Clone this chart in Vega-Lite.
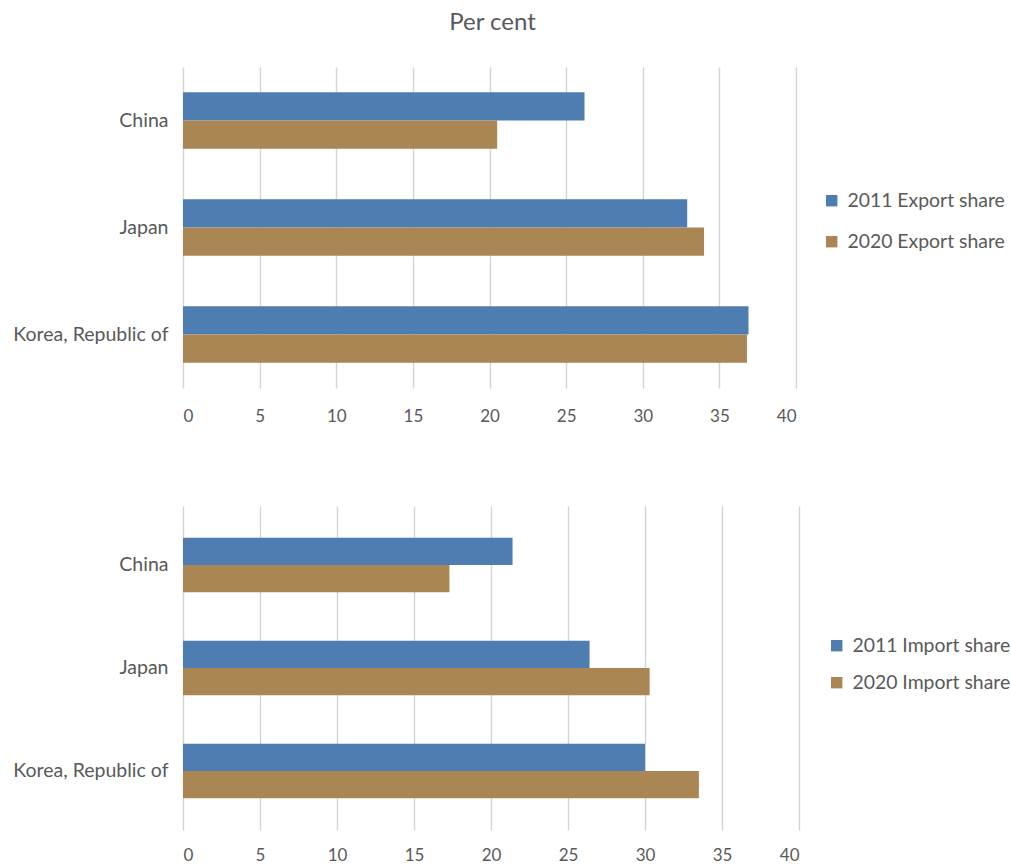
{
  "$schema": "https://vega.github.io/schema/vega-lite/v6.json",
  "background": "white",
  "padding": {"left": 0, "top": 11, "right": 0, "bottom": 0},
  "title": {
    "text": "Per cent",
    "font": "Lato",
    "fontSize": 24,
    "fontWeight": "normal",
    "color": "#595959",
    "anchor": "middle",
    "offset": 32,
    "dx": -13
  },
  "datasets": {
    "exports": [
      {"country": "China", "series": "2011 Export share", "value": 26.2},
      {"country": "China", "series": "2020 Export share", "value": 20.5},
      {"country": "Japan", "series": "2011 Export share", "value": 32.9},
      {"country": "Japan", "series": "2020 Export share", "value": 34.0},
      {"country": "Korea, Republic of", "series": "2011 Export share", "value": 36.9},
      {"country": "Korea, Republic of", "series": "2020 Export share", "value": 36.8}
    ],
    "imports": [
      {"country": "China", "series": "2011 Import share", "value": 21.4},
      {"country": "China", "series": "2020 Import share", "value": 17.3},
      {"country": "Japan", "series": "2011 Import share", "value": 26.4},
      {"country": "Japan", "series": "2020 Import share", "value": 30.3},
      {"country": "Korea, Republic of", "series": "2011 Import share", "value": 30.0},
      {"country": "Korea, Republic of", "series": "2020 Import share", "value": 33.5}
    ]
  },
  "spacing": 82,
  "resolve": {
    "scale": {"color": "independent", "y": "independent", "x": "independent", "yOffset": "independent"},
    "legend": {"color": "independent"}
  },
  "vconcat": [
    {
      "width": 613,
      "height": 321,
      "data": {"name": "exports"},
      "mark": {"type": "bar"},
      "encoding": {
        "y": {
          "field": "country",
          "type": "nominal",
          "sort": ["China", "Japan", "Korea, Republic of"],
          "scale": {"paddingInner": 0.471, "paddingOuter": 0.2355},
          "axis": {"title": null, "domain": false, "ticks": false, "labelPadding": 15, "minExtent": 183, "labelFontSize": 19.5}
        },
        "yOffset": {
          "field": "series",
          "type": "nominal",
          "sort": ["2011 Export share", "2020 Export share"],
          "scale": {"paddingInner": 0, "paddingOuter": 0}
        },
        "x": {
          "field": "value",
          "type": "quantitative",
          "scale": {"domain": [0, 40], "nice": false},
          "axis": {"title": null, "values": [0, 5, 10, 15, 20, 25, 30, 35, 40], "domain": false, "ticks": false, "labelPadding": 20}
        },
        "color": {
          "field": "series",
          "type": "nominal",
          "scale": {"domain": ["2011 Export share", "2020 Export share"], "range": ["#4E7DB1", "#A98654"]},
          "legend": {"title": null, "orient": "none", "legendX": 639, "legendY": 124, "rowPadding": 20}
        }
      }
    },
    {
      "width": 616,
      "height": 324,
      "data": {"name": "imports"},
      "mark": {"type": "bar"},
      "encoding": {
        "y": {
          "field": "country",
          "type": "nominal",
          "sort": ["China", "Japan", "Korea, Republic of"],
          "scale": {"paddingInner": 0.472, "paddingOuter": 0.309},
          "axis": {"title": null, "domain": false, "ticks": false, "labelPadding": 15, "minExtent": 183, "labelFontSize": 19.5}
        },
        "yOffset": {
          "field": "series",
          "type": "nominal",
          "sort": ["2011 Import share", "2020 Import share"],
          "scale": {"paddingInner": 0, "paddingOuter": 0}
        },
        "x": {
          "field": "value",
          "type": "quantitative",
          "scale": {"domain": [0, 40], "nice": false},
          "axis": {"title": null, "values": [0, 5, 10, 15, 20, 25, 30, 35, 40], "domain": false, "ticks": false, "labelPadding": 17}
        },
        "color": {
          "field": "series",
          "type": "nominal",
          "scale": {"domain": ["2011 Import share", "2020 Import share"], "range": ["#4E7DB1", "#A98654"]},
          "legend": {"title": null, "orient": "none", "legendX": 644, "legendY": 130, "rowPadding": 16}
        }
      }
    }
  ],
  "config": {
    "view": {"stroke": null},
    "font": "Lato",
    "axis": {
      "labelFont": "Lato",
      "labelFontSize": 17,
      "labelColor": "#595959",
      "gridColor": "#D4D4D4",
      "gridWidth": 1.4
    },
    "axisY": {"grid": false},
    "legend": {
      "labelFont": "Lato",
      "labelFontSize": 19.4,
      "labelColor": "#595959",
      "symbolType": "square",
      "symbolSize": 130,
      "symbolStrokeWidth": 0,
      "labelOffset": 6
    }
  }
}
